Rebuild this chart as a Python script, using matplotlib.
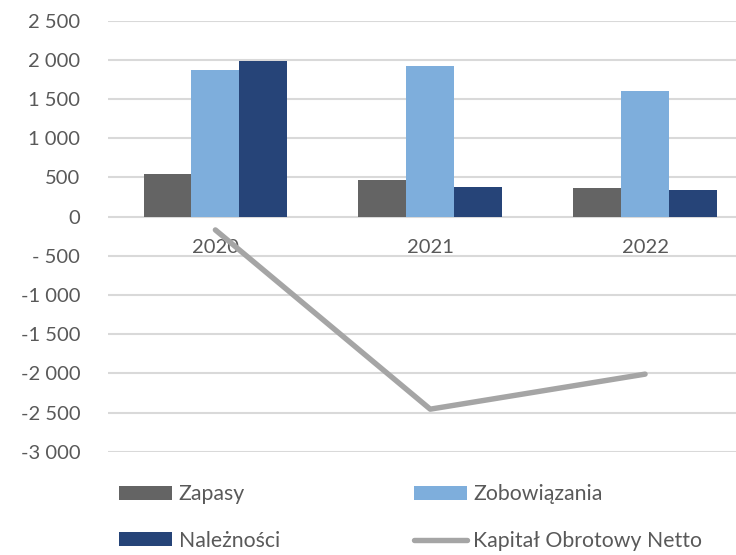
import matplotlib
matplotlib.use("Agg")
import numpy as np
from matplotlib import pyplot as plt
from matplotlib.ticker import FuncFormatter

years = ["2020", "2021", "2022"]
zapasy = [541, 468, 362]
zobowiazania = [1867, 1918, 1603]
naleznosci = [1986, 383, 340]
kapital_netto = [-170, -2457, -2010]

text_color = "#595959"
c_zap = "#646464"
c_zob = "#7EAEDC"
c_nal = "#264478"
c_line = "#A5A5A5"

plt.rcParams["font.family"] = ["Lato", "DejaVu Sans"]
plt.rcParams["font.size"] = 14.5


def pl_format(v, pos):
    # excel-like: thousands separated by space, "- 500" for small negatives
    s = "{:,.0f}".format(abs(v)).replace(",", " ")
    if v < 0:
        return ("- " if abs(v) < 1000 else "-") + s
    return s


fig = plt.figure(figsize=(7.36, 5.55), dpi=100)
ax = fig.add_axes([0.1467, 0.1861, 0.8757, 0.7766])

x = np.arange(len(years))
w = 0.223
b1 = ax.bar(x - w, zapasy, w, color=c_zap, label="Zapasy", zorder=3)
b2 = ax.bar(x, zobowiazania, w, color=c_zob, label="Zobowiązania", zorder=3)
b3 = ax.bar(x + w, naleznosci, w, color=c_nal, label="Należności", zorder=3)
ln, = ax.plot(x, kapital_netto, color=c_line, linewidth=3.9,
              solid_capstyle="round", label="Kapitał Obrotowy Netto", zorder=4)

ax.set_xlim(-0.5, 2.5)
ax.set_ylim(-3000, 2500)
ax.set_yticks(np.arange(-3000, 2501, 500))
ax.yaxis.set_major_formatter(FuncFormatter(pl_format))
ax.grid(axis="y", color="#D9D9D9", linewidth=1.5, zorder=0)
ax.set_xticks(x)
ax.set_xticklabels(years)
ax.spines["bottom"].set_position(("data", 0))
for s in ["top", "right", "left", "bottom"]:
    ax.spines[s].set_visible(False)
ax.tick_params(axis="both", length=0, colors=text_color, labelsize=14.5)
ax.tick_params(axis="y", pad=20)
ax.tick_params(axis="x", pad=16)

fig.legend([b1, b3, b2, ln], ["Zapasy", "Należności", "Zobowiązania", "Kapitał Obrotowy Netto"],
           ncol=2, frameon=False, loc="lower left", bbox_to_anchor=(0.136, -0.027),
           handlelength=2.5, handleheight=0.62, handletextpad=0.29,
           columnspacing=6.3, labelspacing=1.25, fontsize=15.3, labelcolor=text_color)

fig.savefig("out.png", dpi=100)
